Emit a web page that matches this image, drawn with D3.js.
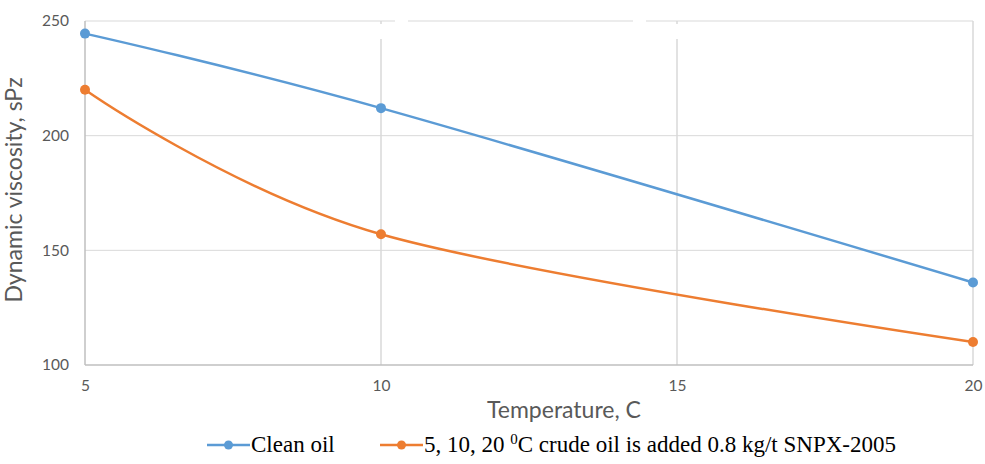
<!DOCTYPE html>
<html>
<head>
<meta charset="utf-8">
<script src="https://cdn.jsdelivr.net/npm/d3@7"></script>
<style>
  html, body { margin: 0; padding: 0; background: #fff; }
  svg { display: block; }
</style>
</head>
<body>
<svg id="chart" width="985" height="464"></svg>
<script>
// Temperatures (°C) at which viscosity was measured
const temperatures = [5, 10, 20];
// Dynamic viscosity, sPz
const cleanOil = [244.5, 212, 136];
const treatedOil = [220, 157, 110];
const seriesNames = ["Clean oil", "5, 10, 20 \u2070C crude oil is added 0.8 kg/t SNPX-2005"];
const xTicks = [5, 10, 15, 20];
const yTicks = [100, 150, 200, 250];

const colors = ["#5b9bd5", "#ed7d31"];
const svg = d3.select("#chart");
const margin = { left: 85, right: 12, top: 21, bottom: 99 };

const x = d3.scaleLinear().domain([5, 20]).range([margin.left, 973]);
const y = d3.scaleLinear().domain([100, 250]).range([365, margin.top]);

const tickFont = "Lato, 'Open Sans', sans-serif";

// gridlines
const grid = svg.append("g");
grid.selectAll("line.h").data(yTicks.filter(d => d !== 100)).join("line")
  .attr("x1", x(5)).attr("x2", x(20))
  .attr("y1", d => y(d)).attr("y2", d => y(d))
  .attr("stroke", "#d9d9d9").attr("stroke-width", 1);
grid.selectAll("line.v").data(xTicks.filter(d => d !== 5)).join("line")
  .attr("x1", d => x(d)).attr("x2", d => x(d))
  .attr("y1", y(250)).attr("y2", y(100))
  .attr("stroke", "#d9d9d9").attr("stroke-width", 1.5);

// blank title area breaking the upper gridlines
const blank = svg.append("g").attr("fill", "#fff");
[10, 15].forEach(t => {
  blank.append("rect").attr("x", x(t) - 3).attr("y", y(250) + 3).attr("width", 6).attr("height", 15);
});
blank.append("rect").attr("x", x(10) + 14).attr("y", y(250) - 2).attr("width", 13).attr("height", 4);
blank.append("rect").attr("x", x(15) - 44).attr("y", y(250) - 2).attr("width", 13).attr("height", 4);

// axes lines
svg.append("line").attr("x1", x(5)).attr("x2", x(5)).attr("y1", y(250)).attr("y2", y(100))
  .attr("stroke", "#bfbfbf").attr("stroke-width", 1.5);
svg.append("line").attr("x1", x(5)).attr("x2", x(20)).attr("y1", y(100)).attr("y2", y(100))
  .attr("stroke", "#bfbfbf").attr("stroke-width", 1.5);

// tick labels
const yAxis = svg.append("g").attr("transform", `translate(${x(5) - 16},0)`)
  .call(d3.axisLeft(y).tickValues(yTicks).tickSize(0).tickPadding(0));
yAxis.select(".domain").remove();
yAxis.selectAll("text").attr("font-family", tickFont).attr("font-size", 15.5).attr("fill", "#595959");

const xAxis = svg.append("g").attr("transform", `translate(0,${y(100) + 15})`)
  .call(d3.axisBottom(x).tickValues(xTicks).tickSize(0).tickPadding(0).tickFormat(d3.format("d")));
xAxis.select(".domain").remove();
xAxis.selectAll("text").attr("font-family", tickFont).attr("font-size", 15.5).attr("fill", "#595959");

// axis titles
svg.append("text")
  .attr("transform", `translate(22,${(y(250) + y(100)) / 2 - 3}) rotate(-90)`)
  .attr("text-anchor", "middle")
  .attr("font-family", tickFont).attr("font-size", 23).attr("fill", "#595959")
  .text("Dynamic viscosity, sPz");
svg.append("text")
  .attr("x", 564).attr("y", 418)
  .attr("text-anchor", "middle")
  .attr("font-family", tickFont).attr("font-size", 23).attr("fill", "#595959")
  .text("Temperature, C");

// series
const line = d3.line().x(d => x(d[0])).y(d => y(d[1])).curve(d3.curveCardinal.tension(0));
const series = [cleanOil, treatedOil].map(vals => temperatures.map((t, i) => [t, vals[i]]));
series.forEach((pts, i) => {
  svg.append("path").datum(pts).attr("d", line)
    .attr("fill", "none").attr("stroke", colors[i]).attr("stroke-width", 2.5);
  svg.selectAll(null).data(pts).join("circle")
    .attr("cx", d => x(d[0])).attr("cy", d => y(d[1])).attr("r", 5)
    .attr("fill", colors[i]);
});

// legend
const legend = svg.append("g").attr("transform", "translate(0,445)");
const legendX = [207, 380];
seriesNames.forEach((name, i) => {
  const g = legend.append("g").attr("transform", `translate(${legendX[i]},0)`);
  g.append("line").attr("x1", 0).attr("x2", 43).attr("stroke", colors[i]).attr("stroke-width", 2.5);
  g.append("circle").attr("cx", 21.5).attr("r", 4.5).attr("fill", colors[i]);
  const t = g.append("text").attr("x", 44).attr("y", 7)
    .attr("font-family", "'Liberation Serif', 'Times New Roman', serif")
    .attr("font-size", 23).attr("fill", "#000");
  if (i === 0) {
    t.text(name);
  } else {
    t.append("tspan").text("5, 10, 20 ");
    t.append("tspan").attr("font-size", 15).attr("dy", -8).text("0");
    t.append("tspan").attr("dy", 8).text("C crude oil is added 0.8 kg/t SNPX-2005");
  }
});
</script>
</body>
</html>
